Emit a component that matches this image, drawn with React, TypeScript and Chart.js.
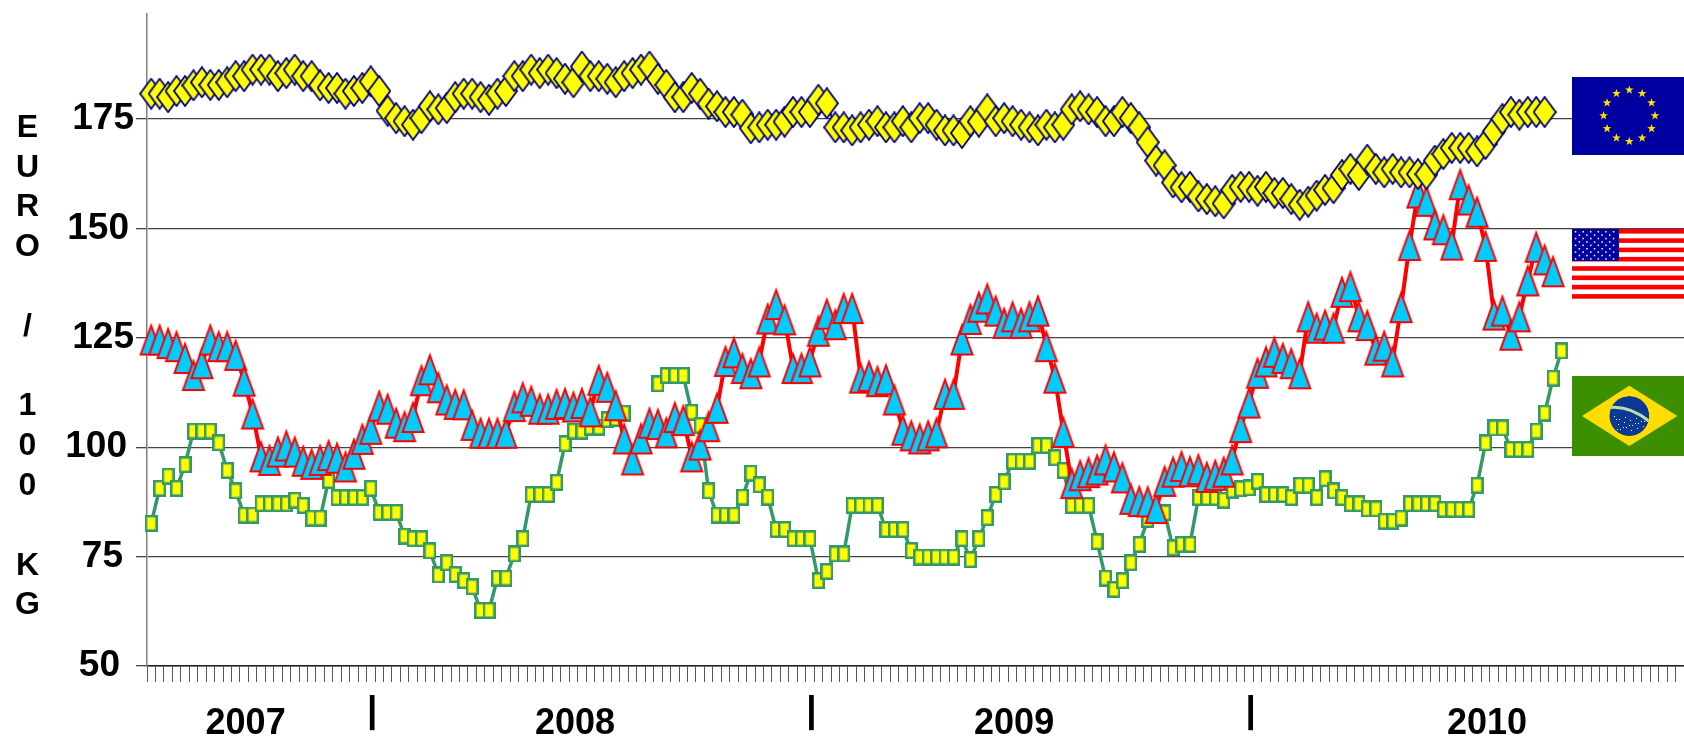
import React, { useEffect, useRef } from "react";
import { Chart, registerables } from "chart.js";

Chart.register(...registerables);

const euPrices = [
  180.8,180.8,180,181.4,181.4,182.7,183.4,182.8,182.8,183.4,184.8,184.8,186.3,186.3,186.3,184.8,185.5,186.3,184.8,184.8,
  182.7,182.1,182.1,180.8,181.4,182.1,183.6,181.4,176.9,175.2,174.5,173.7,175.2,177.9,177.2,177.5,180,180.8,180.8,180,
  179.4,180.8,181.4,184.8,184.8,186.3,185.5,186.3,185.5,184.2,183.4,187,184.8,184.8,184.2,183.4,184.8,185.5,186.3,187,
  184.2,182.8,180,180,182.1,180.8,178.5,177.9,176.6,176.6,176,172.9,173.1,173.7,173.7,174.4,176.6,176.6,176.6,179.4,
  178.6,173.1,173.1,172.4,173.1,173.7,174.5,173.1,173.1,174.5,173.1,175.2,175.2,173.7,172.4,172.4,171.8,174.5,174.4,177.2,
  174.5,175.2,174.5,173.7,173.1,172.4,173.7,173.1,173.7,177.2,177.9,177.2,176.6,174.5,174.5,176.6,175.2,173.1,169.7,165.5,
  164.4,160.5,159.4,159.5,157.3,156.7,156.2,155.7,158.8,159.5,159.5,158.6,159.5,158.1,158.1,156.7,155.4,156.1,157.5,158.8,
  159.2,162.2,163.6,162.2,165.7,163.6,162.8,163.6,162.8,162.8,162.4,162.4,165.5,167,168.4,168.4,168.4,167.6,169.3,172.2,
  175,176.6,176,176.6,176.6,176.6,
];

const usPrices = [
  124.6,124.6,123.8,123.1,120.4,116.5,119.2,124.6,123.1,123.1,121.1,115.2,107.7,97.9,97.1,99,100.4,99,96.9,96.2,
  97.1,98.2,97.6,95.6,98.5,101.9,104.2,109.5,108.8,105.6,104.8,106.9,115.3,117.8,113.7,110.9,109.9,109.8,105.1,103.3,
  103.3,103.3,103.3,109.4,111.4,110.6,108.8,108.8,109.9,110.1,109.3,110.1,108.2,115.4,113.8,109.6,102,97.2,102,105.6,
  105.3,103.4,106.9,106.2,97.9,100.6,104.8,109,119.7,121.7,118.1,116.9,119.6,129.4,132.7,129.2,118.1,118.1,119.6,126.6,
  130.5,128.1,131.8,131.8,115.9,116.3,115.1,115.5,110.9,104,102.7,102,102.7,103.4,112.2,112.2,124.6,129.3,132.1,134,
  131.2,128.4,129.9,128.4,129.9,131.2,123.1,115.9,103.5,91.8,93.6,94.3,94.9,97.2,95.6,93.1,88.2,87.7,87.6,86.1,
  92.3,94.4,95.7,94.5,95,93.2,93.7,94.4,97.2,104.6,110.2,117,119.6,121.8,120.4,119.2,116.9,129.9,127.3,128,
  127.3,135.5,136.8,129.9,127.9,122.3,123.2,119.6,132,146.2,158.2,156.3,150.9,149.8,146.3,160.1,156.6,153.8,146,130.3,
  131.2,125.7,129.9,138.1,145.8,142.9,140.2,
];

const brPrices: (number | null)[] = [
  82.6,90.6,93.4,90.6,96,103.7,103.7,103.7,101,94.7,90,84.5,84.5,87.1,87.1,87.1,87.1,87.9,86.7,83.8,
  83.8,92.4,88.5,88.5,88.5,88.5,90.6,85.1,85.1,85.1,79.7,79.1,79.1,76.3,70.8,73.6,70.9,69.5,68.1,62.7,
  62.7,70.1,70.1,75.6,79.1,89.2,89.2,89.2,92,100.8,103.7,103.7,104.6,104.6,106.3,106.6,107.8,null,null,null,
  114.5,116.4,116.4,116.4,108,105,90,84.5,84.5,84.5,88.6,94.1,91.4,88.6,81.2,81.2,79.1,79.1,79.1,69.5,
  71.6,75.6,75.6,86.7,86.7,86.7,86.7,81.2,81.2,81.2,76.4,74.9,74.9,74.9,74.9,74.9,79.1,74.3,79.1,83.9,
  89.2,92.1,96.8,96.8,96.8,100.4,100.4,97.6,94.7,86.7,86.7,86.7,78.4,70.1,67.5,69.5,73.6,77.8,83.5,85,
  85,77,77.8,77.8,88.5,88.5,88.5,87.9,90.2,90.5,90.7,92.2,89.2,89.2,89.2,88.5,91.3,91.3,88.5,92.8,
  90,88.5,87.1,87.1,85.9,85.9,83.1,83.1,83.8,87.1,87.1,87.1,87.1,85.8,85.8,85.8,85.8,91.3,101,104.4,
  104.4,99.5,99.5,99.5,103.7,107.8,115.8,122,
];

const weekCount = 182;
const yearLabels: [number, string][] = [
  [11, "2007"], [26, "|"], [50, "2008"], [78, "|"], [102, "2009"], [130, "|"], [158, "2010"],
];
const categories = Array.from({ length: weekCount }, (_, i) => {
  const hit = yearLabels.find((e) => e[0] === i);
  return hit ? hit[1] : "";
});
const yTicks = [50, 75, 100, 125, 150, 175];
const sideLetters = ["E", "U", "R", "O", "", "/", "", "1", "0", "0", "", "K", "G"];

const FONT = "'Liberation Sans', Arial, sans-serif";

function sprite(w: number, h: number, draw: (c: CanvasRenderingContext2D) => void) {
  const cv = document.createElement("canvas");
  cv.width = w;
  cv.height = h;
  draw(cv.getContext("2d")!);
  return cv;
}

const diamondSprite = () =>
  sprite(24, 32, (c) => {
    c.beginPath();
    c.moveTo(12, 1);
    c.lineTo(23, 16);
    c.lineTo(12, 31);
    c.lineTo(1, 16);
    c.closePath();
    c.fillStyle = "#FFFF00";
    c.fill();
    c.lineWidth = 1.8;
    c.strokeStyle = "#000080";
    c.stroke();
  });

const triangleSprite = () =>
  sprite(26, 34, (c) => {
    c.beginPath();
    c.moveTo(13, 3);
    c.lineTo(23.5, 32);
    c.lineTo(2.5, 32);
    c.closePath();
    c.fillStyle = "#00CCFF";
    c.fill();
    c.lineWidth = 2;
    c.lineJoin = "miter";
    c.strokeStyle = "#FF0000";
    c.stroke();
  });

const squareSprite = () =>
  sprite(13, 17, (c) => {
    c.fillStyle = "#339966";
    c.fillRect(0, 0, 13, 17);
    c.fillStyle = "#FFFF00";
    c.fillRect(2.5, 2.5, 8, 12);
  });

function star(c: CanvasRenderingContext2D, x: number, y: number, r: number) {
  c.beginPath();
  for (let i = 0; i < 10; i++) {
    const a = -Math.PI / 2 + (i * Math.PI) / 5;
    const rr = i % 2 ? r * 0.4 : r;
    c.lineTo(x + rr * Math.cos(a), y + rr * Math.sin(a));
  }
  c.closePath();
  c.fill();
}

function drawFlags(c: CanvasRenderingContext2D) {
  // EU
  c.fillStyle = "#0000A0";
  c.fillRect(1572, 77, 112, 78);
  c.fillStyle = "#FFE000";
  for (let i = 0; i < 12; i++) {
    const a = (i * Math.PI) / 6;
    star(c, 1629.3 + 25.7 * Math.sin(a), 115.7 - 25.7 * Math.cos(a), 4.6);
  }
  // USA
  c.fillStyle = "#FFFFFF";
  c.fillRect(1572, 229, 112, 70);
  c.fillStyle = "#FF0000";
  for (let i = 0; i < 8; i++) c.fillRect(1572, 229 + i * 9.3, 112, 4.6);
  c.fillStyle = "#0000A0";
  c.fillRect(1572, 229, 47, 32);
  c.fillStyle = "#FFFFFF";
  for (let row = 0; row < 9; row++) {
    const cols = row % 2 ? 5 : 6;
    for (let col = 0; col < cols; col++) {
      c.fillRect(1574.8 + col * 7.6 + (row % 2 ? 3.8 : 0), 231 + row * 3.4, 1.5, 1.5);
    }
  }
  // Brazil
  c.fillStyle = "#3C9000";
  c.fillRect(1572, 376, 112, 80);
  c.fillStyle = "#FFDD00";
  c.beginPath();
  c.moveTo(1582, 416);
  c.lineTo(1629.3, 385.7);
  c.lineTo(1677.3, 416);
  c.lineTo(1629.3, 446);
  c.closePath();
  c.fill();
  c.save();
  c.beginPath();
  c.arc(1629.3, 416, 20, 0, Math.PI * 2);
  c.clip();
  c.fillStyle = "#0A3A96";
  c.fill();
  c.strokeStyle = "#B8DDA8";
  c.lineWidth = 3;
  c.beginPath();
  c.moveTo(1609, 407.5);
  c.quadraticCurveTo(1630, 405, 1650, 422);
  c.stroke();
  c.fillStyle = "#FFFFFF";
  for (let i = 0; i < 22; i++) {
    const px = 1614 + ((i * 37) % 31);
    const py = 416 + ((i * 13) % 15);
    c.fillRect(px, py, 1, 1);
  }
  c.restore();
}

const decorations = {
  id: "decorations",
  afterDraw(chart: any) {
    const c: CanvasRenderingContext2D = chart.ctx;
    c.save();
    drawFlags(c);
    c.fillStyle = "#000000";
    c.textBaseline = "middle";
    c.textAlign = "center";
    c.font = `bold 32px ${FONT}`;
    sideLetters.forEach((l, i) => {
      if (l) c.fillText(l, 27.5, 128 + i * 39.8);
    });
    const rightEdge: Record<number, number> = { 175: 134, 150: 129, 125: 134, 100: 127, 75: 123, 50: 120 };
    c.textAlign = "right";
    c.font = `bold 37px ${FONT}`;
    yTicks.forEach((v) => {
      c.fillText(String(v), rightEdge[v], chart.scales.y.getPixelForValue(v));
    });
    c.restore();
  },
};

export default function App() {
  const ref = useRef<HTMLCanvasElement>(null);
  useEffect(() => {
    document.body.style.margin = "0";
    const chart = new Chart(ref.current!, {
      type: "line",
      data: {
        labels: categories,
        datasets: [
          {
            label: "EU",
            data: euPrices,
            order: 1,
            borderColor: "#000080",
            borderWidth: 2,
            pointStyle: diamondSprite() as any,
            pointRadius: 5,
            clip: false as any,
            tension: 0,
          },
          {
            label: "USA",
            data: usPrices,
            order: 2,
            borderColor: "#FF0000",
            borderWidth: 4,
            pointStyle: triangleSprite() as any,
            pointRadius: 5,
            clip: false as any,
            tension: 0,
          },
          {
            label: "Brazil",
            data: brPrices,
            order: 3,
            borderColor: "#339966",
            borderWidth: 3.5,
            pointStyle: squareSprite() as any,
            pointRadius: 5,
            clip: false as any,
            tension: 0,
            spanGaps: false,
          },
        ],
      },
      options: {
        animation: false,
        responsive: false,
        layout: { autoPadding: false, padding: { top: 14, left: 0, right: 0, bottom: 0 } },
        plugins: { legend: { display: false }, tooltip: { enabled: false }, title: { display: false } },
        scales: {
          x: {
            type: "category",
            offset: true,
            grid: { display: true, drawOnChartArea: false, drawTicks: true, tickLength: 16, offset: true, tickColor: "#555555", tickWidth: 1 },
            border: { color: "#222222", width: 1.5 },
            ticks: {
              autoSkip: false,
              maxRotation: 0,
              minRotation: 0,
              padding: 20,
              labelOffset: 1.5,
              color: "#000000",
              font: (ctx: any) =>
                ctx.tick && ctx.tick.label === "|"
                  ? { family: FONT, size: 37, weight: "bold", lineHeight: 0.55 }
                  : { family: FONT, size: 36, weight: "bold", lineHeight: 1.2 },
            },
            afterFit(scale: any) {
              scale.height = 71;
              scale.paddingRight = 0;
              scale.paddingLeft = 0;
            },
          },
          y: {
            type: "linear",
            min: 50,
            max: 199,
            grid: { color: "#444444", lineWidth: 1.3, tickLength: 11, drawTicks: true, tickColor: "#444444" },
            border: { color: "#808080", width: 1.5 },
            ticks: { display: false },
            afterBuildTicks(scale: any) {
              scale.ticks = yTicks.map((value) => ({ value }));
            },
            afterFit(scale: any) {
              scale.width = 147;
            },
          },
        },
      } as any,
      plugins: [decorations as any],
    });
    return () => chart.destroy();
  }, []);
  return (
    <div style={{ position: "absolute", left: 0, top: 0, width: 1684, height: 737 }}>
      <canvas ref={ref} width={1684} height={737} style={{ display: "block", width: 1684, height: 737 }} />
    </div>
  );
}
